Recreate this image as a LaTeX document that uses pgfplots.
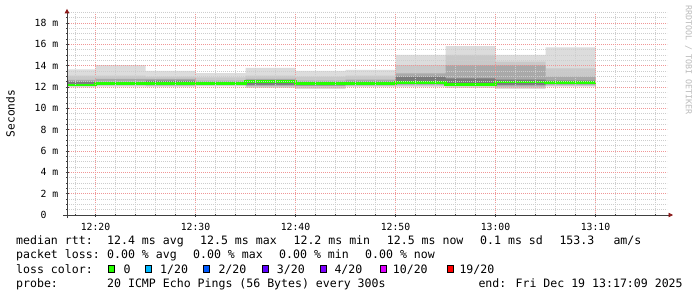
\documentclass[border=0pt]{standalone}
\usepackage{pgfplots}
\pgfplotsset{compat=1.18}
\usepackage{pgfplotstable}
\usetikzlibrary{arrows.meta}
\usepackage{fontspec}
\setmainfont{DejaVu Sans Mono}
\newfontfamily\dvm{DejaVu Sans Mono}
\newcommand\legfont{\dvm\fontsize{11.56bp}{13bp}\selectfont}
\newcommand\tickfont{\dvm\fontsize{9.8bp}{11bp}\selectfont}
\definecolor{smokeA}{HTML}{DCDCDC}
\definecolor{smokeB}{HTML}{C9C9C9}
\definecolor{smokeC}{HTML}{A9A9A9}
\definecolor{smokeD}{HTML}{7A7A7A}
\definecolor{lz}{HTML}{26FF00}
\definecolor{la}{HTML}{00B8FF}
\definecolor{lb}{HTML}{0059FF}
\definecolor{lc}{HTML}{5E00FF}
\definecolor{ld}{HTML}{7E00FF}
\definecolor{le}{HTML}{DD00FF}
\definecolor{lf}{HTML}{FF0000}
\definecolor{mgrid}{RGB}{240,150,150}
\definecolor{mingrid}{RGB}{205,205,205}
\definecolor{arrowred}{HTML}{8B1A1A}
\definecolor{axisgray}{HTML}{404040}
\definecolor{wm}{HTML}{BBBBBB}

% block start (minutes after 12:20), smoke quantiles (ms), median
\pgfplotstableread{
x     lo    q10   q25   q40   med   q60   q75   q90   hi
-2.85 11.97 12.05 12.15 12.30 12.20 12.50 12.66 13.06 13.65
0     12.03 12.10 12.20 12.28 12.30 12.45 12.75 13.06 14.06
5     12.00 12.08 12.15 12.20 12.32 12.60 12.75 12.97 13.50
10    12.05 12.12 12.20 12.25 12.30 12.45 12.60 12.90 13.30
15    11.90 12.00 12.10 12.20 12.53 12.60 12.75 13.06 13.80
20    11.80 11.95 12.10 12.15 12.35 12.45 12.60 12.97 13.50
25    12.00 12.08 12.15 12.25 12.35 12.50 12.70 13.06 13.60
30    12.00 12.10 12.20 12.30 12.40 12.97 13.28 14.06 15.00
35    11.90 12.05 12.15 12.30 12.26 12.80 14.06 15.00 15.84
40    11.80 11.95 12.05 12.20 12.47 12.70 14.06 14.37 15.00
45    12.03 12.10 12.20 12.30 12.44 12.60 12.97 13.75 15.72
50    12.03 12.10 12.20 12.30 12.44 12.60 12.97 13.75 15.72
}\smoke

\begin{document}
\begin{tikzpicture}[x=1bp,y=1bp]
\useasboundingbox (0,0) rectangle (697,297);
\fill[white] (0,0) rectangle (697,297);
\begin{axis}[
  at={(67bp,82bp)}, anchor=south west,
  scale only axis, width=600bp, height=202.67bp,
  xmin=-2.85, xmax=57.15, ymin=0, ymax=19,
  axis on top,
  axis lines=left,
  x axis line style={draw=axisgray, line width=0.8bp, shorten <=-4bp, shorten >=-6bp,
     -{Triangle[length=4.5bp,width=4.5bp,color=arrowred,fill=arrowred]}},
  y axis line style={draw=axisgray, line width=0.8bp, shorten <=-3bp, shorten >=-3.5bp,
     -{Triangle[length=4.5bp,width=4.5bp,color=arrowred,fill=arrowred]}},
  xtick={0,10,20,30,40,50},
  xticklabels={12:20,12:30,12:40,12:50,13:00,13:10},
  minor xtick={-2,0,...,56},
  ytick={0,2,...,18},
  yticklabels={0\hphantom{\ m},2 m,4 m,6 m,8 m,10 m,12 m,14 m,16 m,18 m},
  minor ytick={0,0.5,...,19},
  xmajorgrids, ymajorgrids, xminorgrids, yminorgrids,
  major grid style={draw=mgrid, line width=0.8bp, dash pattern=on 1bp off 1bp},
  minor grid style={draw=mingrid, line width=0.8bp, dash pattern=on 1bp off 1bp},
  tick style={draw=axisgray, line width=0.6bp},
  major tick length=3bp, minor tick length=1.5bp, tick align=center,
  ticklabel style={font=\tickfont, text=black},
  xticklabel style={anchor=center, inner sep=0pt, yshift=-10bp},
  yticklabel style={anchor=east, inner sep=0pt, xshift=-7bp},
]
% smoke: nested areas painted from the outside in, lower part masked in white
\addplot[const plot, fill=smokeA, draw=none] table[x=x,y=hi]{\smoke} \closedcycle;
\addplot[const plot, fill=smokeB, draw=none] table[x=x,y=q90]{\smoke} \closedcycle;
\addplot[const plot, fill=smokeC, draw=none] table[x=x,y=q75]{\smoke} \closedcycle;
\addplot[const plot, fill=smokeD, draw=none] table[x=x,y=q60]{\smoke} \closedcycle;
\addplot[const plot, fill=smokeC, draw=none] table[x=x,y=q40]{\smoke} \closedcycle;
\addplot[const plot, fill=smokeB, draw=none] table[x=x,y=q25]{\smoke} \closedcycle;
\addplot[const plot, fill=smokeA, draw=none] table[x=x,y=q10]{\smoke} \closedcycle;
\addplot[const plot, fill=white, draw=none] table[x=x,y=lo]{\smoke} \closedcycle;
\addplot[const plot, draw=lz, line width=2.7bp] table[x=x,y=med]{\smoke};
\end{axis}

% y axis title and watermark
\node[rotate=90, font=\dvm\fontsize{11.2bp}{13bp}\selectfont] at (10.5,183.5) {Seconds};
\node[rotate=-90, text=wm, font=\dvm\fontsize{8.3bp}{10bp}\selectfont] at (688.5,237) {RRDTOOL / TOBI OETIKER};

% legend
\begin{scope}[every node/.style={anchor=base west, inner sep=0pt, font=\legfont}]
\node at (16,52.5) {median rtt:};
\node at (107,52.5) {12.4 ms avg};
\node at (200,52.5) {12.5 ms max};
\node at (293.4,52.5) {12.2 ms min};
\node at (386.7,52.5) {12.5 ms now};
\node at (480,52.5) {0.1 ms sd};
\node at (559.3,52.5) {153.3};
\node at (613.3,52.5) {am/s};

\node at (16,38.2) {packet loss:};
\node at (107,38.2) {0.00 \% avg};
\node at (193,38.2) {0.00 \% max};
\node at (279,38.2) {0.00 \% min};
\node at (365,38.2) {0.00 \% now};

\node at (16,23.9) {loss color:};
\node at (123.3,23.9) {0};
\node at (160,23.9) {1/20};
\node at (218.3,23.9) {2/20};
\node at (276.7,23.9) {3/20};
\node at (334.3,23.9) {4/20};
\node at (392.7,23.9) {10/20};
\node at (459.3,23.9) {19/20};

\node at (16,9.6) {probe:};
\node at (107,9.6) {20 ICMP Echo Pings (56 Bytes) every 300s};
\node at (478.3,9.6) {end: Fri Dec 19 13:17:09 2025};
\end{scope}
\begin{scope}[line width=0.8bp, draw=black]
\filldraw[fill=lz] (108.7,24.4) rectangle (114.6,31.6);
\filldraw[fill=la] (145.4,24.4) rectangle (151.3,31.6);
\filldraw[fill=lb] (203.1,24.4) rectangle (209.0,31.6);
\filldraw[fill=lc] (262.1,24.4) rectangle (268.0,31.6);
\filldraw[fill=ld] (320.4,24.4) rectangle (326.3,31.6);
\filldraw[fill=le] (380.4,24.4) rectangle (386.3,31.6);
\filldraw[fill=lf] (447.1,24.4) rectangle (453.0,31.6);
\end{scope}
\end{tikzpicture}
\end{document}
